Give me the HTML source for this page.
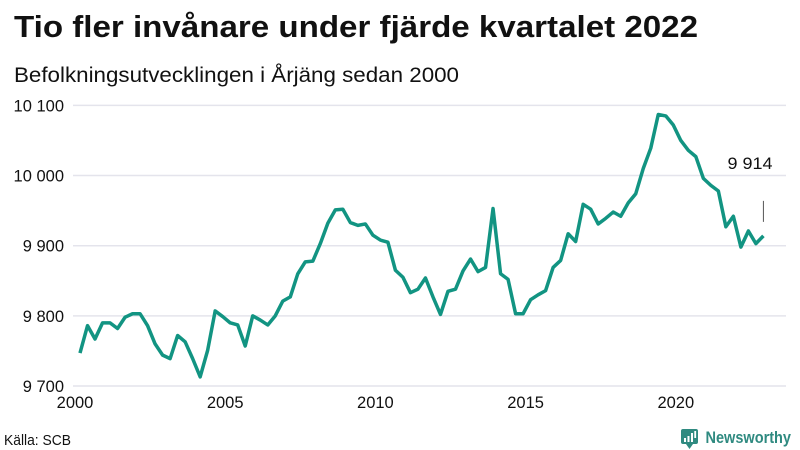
<!DOCTYPE html>
<html lang="sv">
<head>
<meta charset="utf-8">
<title>Tio fler invånare under fjärde kvartalet 2022</title>
<style>
html,body{margin:0;padding:0;background:#fff;width:800px;height:450px;overflow:hidden}
svg{display:block}
text{font-family:"Liberation Sans","DejaVu Sans",sans-serif;fill:#111}
</style>
</head>
<body>
<svg id="chart" xmlns="http://www.w3.org/2000/svg" width="800" height="450" viewBox="0 0 800 450">
  <text x="14" y="37" font-size="31" font-weight="700" textLength="684" lengthAdjust="spacingAndGlyphs">Tio fler invånare under fjärde kvartalet 2022</text>
  <text x="14" y="82" font-size="21" textLength="445" lengthAdjust="spacingAndGlyphs">Befolkningsutvecklingen i Årjäng sedan 2000</text>
  <g id="grid"></g>
  <g id="y-labels"></g>
  <g id="x-labels"></g>
  <path id="series" fill="none" stroke="#129482" stroke-width="3.5" stroke-linejoin="round" stroke-linecap="butt"></path>
  <line id="callout-line" stroke="#555" stroke-width="1"></line>
  <text id="callout-text" x="750" y="169" font-size="17" text-anchor="middle" textLength="45" lengthAdjust="spacingAndGlyphs"></text>
  <text x="4" y="445" font-size="15" textLength="67" lengthAdjust="spacingAndGlyphs">Källa: SCB</text>
  <g>
    <path d="M683 429H696Q698 429 698 431V442Q698 444 696 444H693L689.5 449L686 444H683Q681 444 681 442V431Q681 429 683 429Z" fill="#2f8a80"></path>
    <rect x="684" y="438" width="2" height="4" fill="#fff"></rect>
    <rect x="687.5" y="436" width="2" height="6" fill="#fff"></rect>
    <rect x="691" y="433" width="2" height="9" fill="#fff"></rect>
    <rect x="694.3" y="431" width="1.8" height="7" fill="#fff"></rect>
    <text x="705.5" y="443" font-size="16.5" font-weight="700" style="fill:#2f8a80" textLength="85.5" lengthAdjust="spacingAndGlyphs">Newsworthy</text>
  </g>
</svg>
<script>
const startYear = 2000;
const values = [
  9747,9786,9767,9790,9790,9782,9798,9803,9803,9786,9760,9744,9739,9772,9763,9739,
  9713,9751,9807,9799,9790,9787,9757,9800,9794,9787,9800,9821,9827,9860,9877,9878,
  9903,9932,9951,9952,9933,9929,9931,9915,9908,9905,9865,9855,9833,9838,9854,9827,
  9802,9835,9838,9864,9881,9863,9869,9953,9860,9852,9803,9803,9823,9830,9836,9869,
  9879,9917,9906,9959,9952,9931,9939,9948,9942,9961,9974,10010,10039,10087,10085,10072,
  10050,10036,10027,9996,9986,9978,9927,9942,9898,9921,9903,9914
];
const yTicks = [9700,9800,9900,10000,10100];
const xTicks = [2000,2005,2010,2015,2020];
const lastValueLabel = "9 914";

const NS = "http://www.w3.org/2000/svg";
function xScale(t){ return 80 + (t - startYear) * 30.04; }
function yScale(v){ return 386 - (v - 9700) * 0.7015; }
function fmt(n){ return String(n).replace(/\B(?=(\d{3})+$)/g, " "); }

const grid = document.getElementById("grid");
const yLabels = document.getElementById("y-labels");
const xLabels = document.getElementById("x-labels");

yTicks.forEach(function(v){
  const line = document.createElementNS(NS, "line");
  
  
  line.setAttribute("x1", 73);
  line.setAttribute("x2", 786);
  line.setAttribute("y1", yScale(v));
  line.setAttribute("y2", yScale(v));
  line.setAttribute("stroke", "#e4e4ec");
  line.setAttribute("stroke-width", 1.5);
  grid.appendChild(line);

  const t = document.createElementNS(NS, "text");
  
  
  t.setAttribute("x", 64);
  t.setAttribute("y", yScale(v) + 6);
  t.setAttribute("font-size", 16.5);
  t.setAttribute("text-anchor", "end");
  t.textContent = fmt(v);
  yLabels.appendChild(t);
});

xTicks.forEach(function(y){
  const t = document.createElementNS(NS, "text");
  
  
  t.setAttribute("x", xScale(y) - 5);
  t.setAttribute("y", 408);
  t.setAttribute("font-size", 16.5);
  t.setAttribute("text-anchor", "middle");
  t.textContent = y;
  xLabels.appendChild(t);
});

let d = "";
values.forEach(function(v, i){
  d += (i ? "L" : "M") + xScale(startYear + i / 4).toFixed(2) + " " + yScale(v).toFixed(2);
});
document.getElementById("series").setAttribute("d", d);

const lastX = xScale(startYear + (values.length - 1) / 4);
const lastY = yScale(values[values.length - 1]);
const callout = document.getElementById("callout-line");
callout.setAttribute("x1", lastX);
callout.setAttribute("x2", lastX);
callout.setAttribute("y1", lastY - 35);
callout.setAttribute("y2", lastY - 14);
document.getElementById("callout-text").textContent = lastValueLabel;
</script>
</body>
</html>
